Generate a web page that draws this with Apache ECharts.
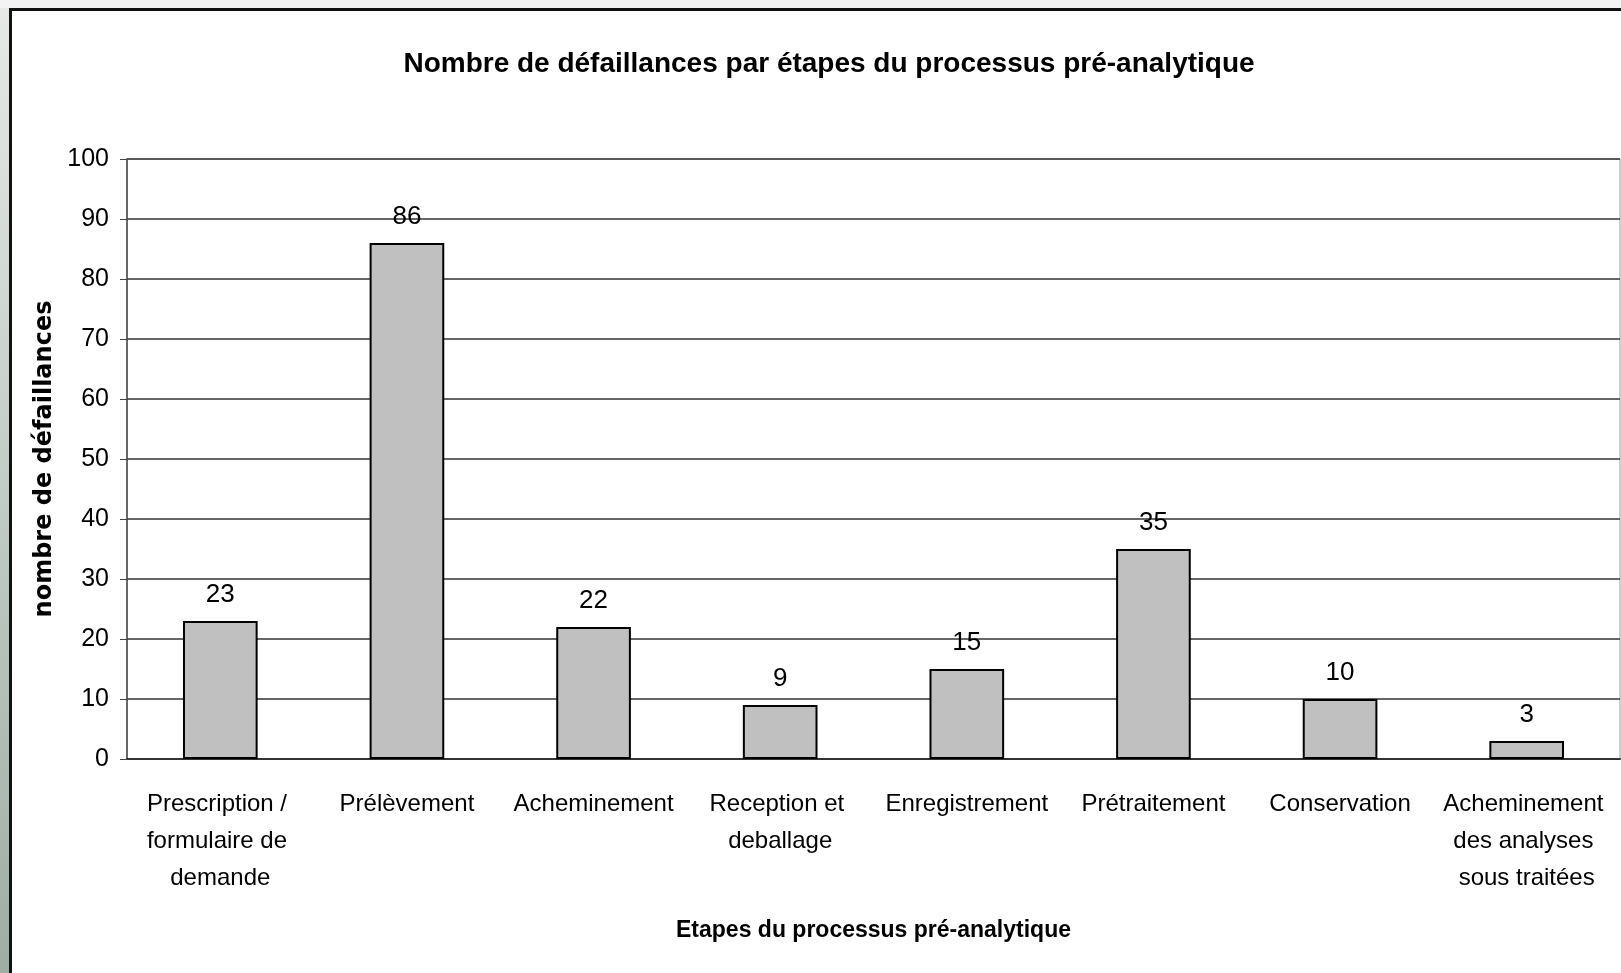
<!DOCTYPE html>
<html lang="fr">
  <head>
    <meta charset="UTF-8" />
    <title>Nombre de défaillances par étapes du processus pré-analytique</title>
    <style>
      * {
        margin: 0;
        padding: 0;
        box-sizing: border-box;
      }
      body {
        width: 1621px;
        height: 973px;
        overflow: hidden;
        background: #f3f3f3;
        position: relative;
      }
      /* bande grise à gauche */
      #strip {
        position: absolute;
        left: 0;
        top: 8px;
        width: 9px;
        height: 965px;
        background: linear-gradient(to bottom, #e6e9e6, #9fada5);
      }
      /* cadre du graphique */
      #frame {
        position: absolute;
        left: 9px;
        top: 8px;
        width: 1700px;
        height: 1100px;
        background: #fff;
        border-left: 3px solid #111;
        border-top: 3px solid #111;
      }
      #main {
        position: absolute;
        left: 0;
        top: 0;
        width: 1621px;
        height: 973px;
      }
    </style>
  </head>
  <body>
    <div id="strip"></div>
    <div id="frame"></div>
    <div id="main"></div>
    <script src="https://cdn.jsdelivr.net/npm/echarts@6/dist/echarts.min.js"></script>
    <script>
      const FONT = "'Liberation Sans', Arial, sans-serif";

      // étapes du processus
      const etapes = [
        "Prescription / formulaire de demande",
        "Prélèvement",
        "Acheminement",
        "Reception et deballage",
        "Enregistrement",
        "Prétraitement",
        "Conservation",
        "Acheminement des analyses sous traitées",
      ];
      // nombre de défaillances
      const defaillances = [23, 86, 22, 9, 15, 35, 10, 3];
      // graduations de l'axe vertical
      const yMin = 0;
      const yMax = 100;
      const yStep = 10;

      const myChart = echarts.init(document.getElementById("main"));
      const option = {
        backgroundColor: "transparent",
        animation: false,
        textStyle: { fontFamily: FONT },
        title: {
          text: "Nombre de défaillances par étapes du processus pré-analytique",
          left: 824,
          top: 45,
          textAlign: "center",
          textStyle: {
            fontFamily: FONT,
            fontSize: 28,
            fontWeight: "bold",
            color: "#000",
          },
        },
        grid: {
          left: 127,
          top: 159,
          right: 1,
          bottom: 214,
          show: true,
          borderColor: "#999",
          borderWidth: 1,
        },
        xAxis: {
          type: "category",
          data: etapes,
          name: "Etapes du processus pré-analytique",
          nameLocation: "middle",
          nameGap: 160,
          nameTextStyle: {
            fontFamily: FONT,
            fontSize: 23,
            fontWeight: "bold",
            color: "#000",
          },
          axisLine: { lineStyle: { color: "#333", width: 2 } },
          axisTick: {
            length: 9,
            lineStyle: { color: "#555", width: 1 },
          },
          axisLabel: {
            interval: 0,
            margin: 27,
            fontFamily: FONT,
            fontSize: 24,
            lineHeight: 37,
            color: "#000",
            width: 176,
            overflow: "break",
          },
        },
        yAxis: {
          type: "value",
          min: yMin,
          max: yMax,
          interval: yStep,
          name: "nombre de défaillances",
          nameLocation: "middle",
          nameGap: 66,
          nameRotate: 90,
          nameTextStyle: {
            fontFamily: "'DejaVu Sans', Verdana, sans-serif",
            fontSize: 24,
            fontWeight: "bold",
            color: "#000",
          },
          axisLine: { show: true, lineStyle: { color: "#444", width: 1.5 } },
          axisTick: { show: true, length: 7, lineStyle: { color: "#444" } },
          axisLabel: {
            margin: 18,
            fontFamily: FONT,
            fontSize: 25,
            color: "#000",
            padding: [4, 0, 0, 0],
          },
          splitLine: { lineStyle: { color: "#333", width: 1.5 } },
        },
        series: [
          {
            type: "bar",
            data: defaillances,
            barWidth: "40%",
            itemStyle: {
              color: "#c0c0c0",
              borderColor: "#000",
              borderWidth: 2,
            },
            label: {
              show: true,
              position: "top",
              distance: 13,
              fontFamily: FONT,
              fontSize: 26,
              color: "#000",
            },
          },
        ],
      };
      myChart.setOption(option);
    </script>
  </body>
</html>
